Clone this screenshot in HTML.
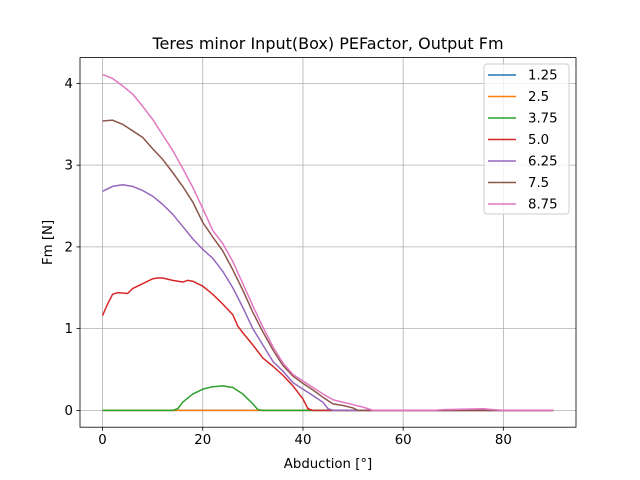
<!DOCTYPE html>
<html><head><meta charset="utf-8"><style>
body{margin:0;background:#fff;}
svg{display:block;font-family:"DejaVu Sans","Liberation Sans",sans-serif;}
</style></head><body>
<svg id="chart" width="640" height="480"></svg>
<script>
const seriesLabels=["1.25","2.5","3.75","5.0","6.25","7.5","8.75"];
const colors=["#1f77b4","#ff7f0e","#2ca02c","#d62728","#9467bd","#8c564b","#e377c2"];
const xTicks=[0,20,40,60,80];
const yTicks=[0,1,2,3,4];
const s125X=[0,90]; const s125Y=[0,0];
const s25X=[0,90]; const s25Y=[0,0];
const s375X=[0,14,15,16,18,20,22,24,26,28,30,31,32,90];
const s375Y=[0,0,0.02,0.1,0.2,0.26,0.29,0.3,0.28,0.2,0.08,0.01,0,0];
const s5X=[0,1,2,3,5,6,8,10,11,12,14,16,17,18,20,22,24,26,27,28,30,32,34,36,38,40,41,42,90];
const s5Y=[1.16,1.3,1.42,1.44,1.43,1.49,1.55,1.61,1.62,1.62,1.59,1.57,1.59,1.58,1.52,1.42,1.3,1.17,1.03,0.95,0.8,0.64,0.54,0.43,0.3,0.14,0.02,0,0];
const s625X=[0,2,4,6,8,10,12,14,16,18,20,22,24,26,28,30,32,34,36,38,40,42,44,45,46,90];
const s625Y=[2.68,2.74,2.76,2.74,2.69,2.62,2.52,2.4,2.25,2.1,1.97,1.86,1.7,1.5,1.26,1.0,0.8,0.6,0.48,0.34,0.26,0.18,0.1,0.02,0,0];
const s75X=[0,2,4,6,8,10,12,14,16,18,20,22,24,26,28,30,32,34,36,38,40,42,44,46,48,50,51,90];
const s75Y=[3.54,3.55,3.5,3.42,3.34,3.2,3.07,2.91,2.74,2.55,2.3,2.12,1.95,1.72,1.47,1.2,0.96,0.74,0.55,0.42,0.33,0.25,0.16,0.08,0.06,0.03,0,0];
const s875X=[0,2,4,6,8,10,12,14,16,18,20,22,24,26,28,30,32,34,36,38,40,42,44,46,48,50,52,53,54,66,68,76,78,80,90];
const s875Y=[4.11,4.06,3.97,3.87,3.72,3.56,3.37,3.18,2.96,2.73,2.47,2.2,2.04,1.82,1.55,1.28,1.02,0.78,0.58,0.44,0.36,0.28,0.2,0.13,0.1,0.07,0.04,0.02,0,0,0.01,0.02,0.01,0,0];
const allX=[s125X,s25X,s375X,s5X,s625X,s75X,s875X];
const allY=[s125Y,s25Y,s375Y,s5Y,s625Y,s75Y,s875Y];

const L=80,R=576,T=57.6,B=427.2;
const xmin=-4.5,xmax=94.5,ymin=-0.2055,ymax=4.3155;
const sx=v=>L+(v-xmin)/(xmax-xmin)*(R-L);
const sy=v=>B-(v-ymin)/(ymax-ymin)*(B-T);
const svg=document.getElementById('chart');
const NS="http://www.w3.org/2000/svg";
function mk(tag,attrs,parent){const e=document.createElementNS(NS,tag);for(const k in attrs)e.setAttribute(k,attrs[k]);(parent||svg).appendChild(e);return e;}

const title=mk('text',{x:(L+R)/2,y:49,'text-anchor':'middle','font-size':16,fill:'#000'});
title.textContent="Teres minor Input(Box) PEFactor, Output Fm";



xTicks.forEach(t=>{
  const g=mk('line',{x1:sx(t),x2:sx(t),y1:T,y2:B,stroke:'#b0b0b0','stroke-width':0.8});
  
  
  mk('line',{x1:sx(t),x2:sx(t),y1:B,y2:B+3.5,stroke:'#000','stroke-width':0.8});
  const tx=mk('text',{x:sx(t),y:B+17,'text-anchor':'middle','font-size':13.3,fill:'#000'});
  tx.textContent=t;
  
  
});
yTicks.forEach(t=>{
  const g=mk('line',{x1:L,x2:R,y1:sy(t),y2:sy(t),stroke:'#b0b0b0','stroke-width':0.8});
  
  
  mk('line',{x1:L-3.5,x2:L,y1:sy(t),y2:sy(t),stroke:'#000','stroke-width':0.8});
  const tx=mk('text',{x:L-7,y:sy(t)+4.5,'text-anchor':'end','font-size':13.3,fill:'#000'});
  tx.textContent=t;
  
  
});

allX.forEach((xs,i)=>{
  const pts=xs.map((x,j)=>sx(x).toFixed(2)+','+sy(allY[i][j]).toFixed(2)).join(' ');
  const p=mk('polyline',{points:pts,fill:'none',stroke:colors[i],'stroke-width':1.5,'stroke-linejoin':'round'});
  
  
});

const frame=mk('rect',{x:L,y:T,width:R-L,height:B-T,fill:'none',stroke:'#000','stroke-width':0.8});



const xl=mk('text',{x:(L+R)/2,y:468,'text-anchor':'middle','font-size':13.3,fill:'#000'});
xl.textContent="Abduction [°]";


const yl=mk('text',{x:0,y:0,'text-anchor':'middle','font-size':13.3,fill:'#000',transform:`translate(52,${(T+B)/2}) rotate(-90)`});
yl.textContent="Fm [N]";



const lg=mk('g',{});


mk('rect',{x:484,y:64,width:85,height:150,rx:3,fill:'#fff','fill-opacity':0.8,stroke:'#cccccc','stroke-width':1},lg);
seriesLabels.forEach((s,i)=>{
  const y=75+i*21.5;
  const ln=mk('line',{x1:488,x2:516,y1:y,y2:y,stroke:colors[i],'stroke-width':1.5},lg);
  
  
  const t=mk('text',{x:528,y:y+4.5,'font-size':13.3,fill:'#000'},lg);
  t.textContent=s;
  
  
});
</script>
</body></html>
